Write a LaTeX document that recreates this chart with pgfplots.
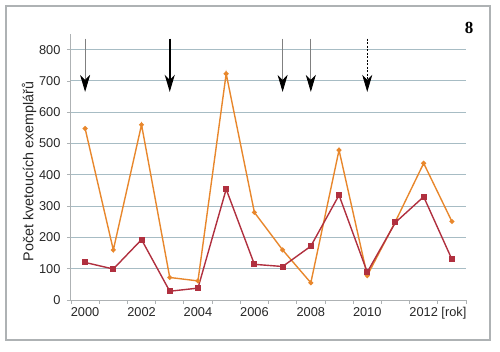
\documentclass[border=0pt]{standalone}
\usepackage{pgfplots}
\pgfplotsset{compat=1.18}
\usepackage{fontspec}
\setmainfont{Liberation Sans}
\newfontfamily\serifbold{Liberation Serif}
\usetikzlibrary{arrows.meta}
\definecolor{orangeS}{HTML}{E8872C}
\definecolor{redS}{HTML}{B0303F}
\definecolor{gridc}{HTML}{A7BCC4}
\definecolor{axc}{HTML}{AEB2B4}
\begin{document}
\begin{tikzpicture}
\begin{axis}[
  scale only axis, width=395bp, height=266bp,
  xmin=-0.5, xmax=13.5, ymin=0, ymax=850,
  axis lines=left, axis line style={draw=axc, line width=1bp, -},
  xtick={-0.5,0.5,...,13.5}, xticklabels={},
  extra x ticks={0,2,4,6,8,10,12},
  extra x tick labels={2000,2002,2004,2006,2008,2010,{2012\rlap{ [rok]}}},
  extra x tick style={major tick length=0pt, grid=none},
  ytick={0,100,...,800},
  tick align=outside, major tick length=4bp,
  tick style={draw=axc, line width=0.8bp},
  ymajorgrids, grid style={draw=gridc, line width=1bp},
  /pgf/number format/assume math mode=true,
  ticklabel style={font=\fontsize{12.8bp}{15bp}\selectfont, text=black!85},
  yticklabel style={xshift=-3bp},
  xticklabel style={yshift=-4bp},
  ylabel={Počet kvetoucích exemplářů},
  ylabel style={font=\fontsize{14.3bp}{17bp}\selectfont, text=black!85, at={(ticklabel cs:0.483)}, yshift=-4bp},
  clip=false,
]
\addplot[orangeS, line width=1.4bp, mark=*, mark size=1.7bp] coordinates {
(0,548) (1,160) (2,560) (3,72) (4,61) (5,723) (6,280) (7,160) (8,55) (9,479) (10,78) (11,251) (12,437) (13,251)};
\addplot[redS, line width=1.4bp, mark=square*, mark size=2.3bp] coordinates {
(0,120) (1,99) (2,193) (3,28) (4,38) (5,354) (6,114) (7,107) (8,172) (9,335) (10,89) (11,248) (12,330) (13,130)};
\draw[gray, line width=0.8bp, -{Stealth[length=17bp,width=10bp,inset=5bp,black]}] (axis cs:0,835) -- (axis cs:0,665);
\draw[black, line width=1.8bp, -{Stealth[length=17bp,width=10bp,inset=5bp,black]}] (axis cs:3,835) -- (axis cs:3,665);
\draw[gray, line width=0.8bp, -{Stealth[length=17bp,width=10bp,inset=5bp,black]}] (axis cs:7,835) -- (axis cs:7,665);
\draw[gray, line width=0.8bp, -{Stealth[length=17bp,width=10bp,inset=5bp,black]}] (axis cs:8,835) -- (axis cs:8,665);
\draw[black, line width=0.8bp, dash pattern=on 2bp off 1.5bp, -{Stealth[length=17bp,width=10bp,inset=5bp,black]}] (axis cs:10,835) -- (axis cs:10,665);
\end{axis}
\draw[axc, line width=1.2bp] (-65bp,-40bp) rectangle (419bp,294bp);
\node[font=\serifbold\bfseries\fontsize{17bp}{20bp}\selectfont] at (398bp,272bp) {8};
\path[use as bounding box] (-71bp,-52bp) rectangle (429bp,300bp);
\end{tikzpicture}
\end{document}
